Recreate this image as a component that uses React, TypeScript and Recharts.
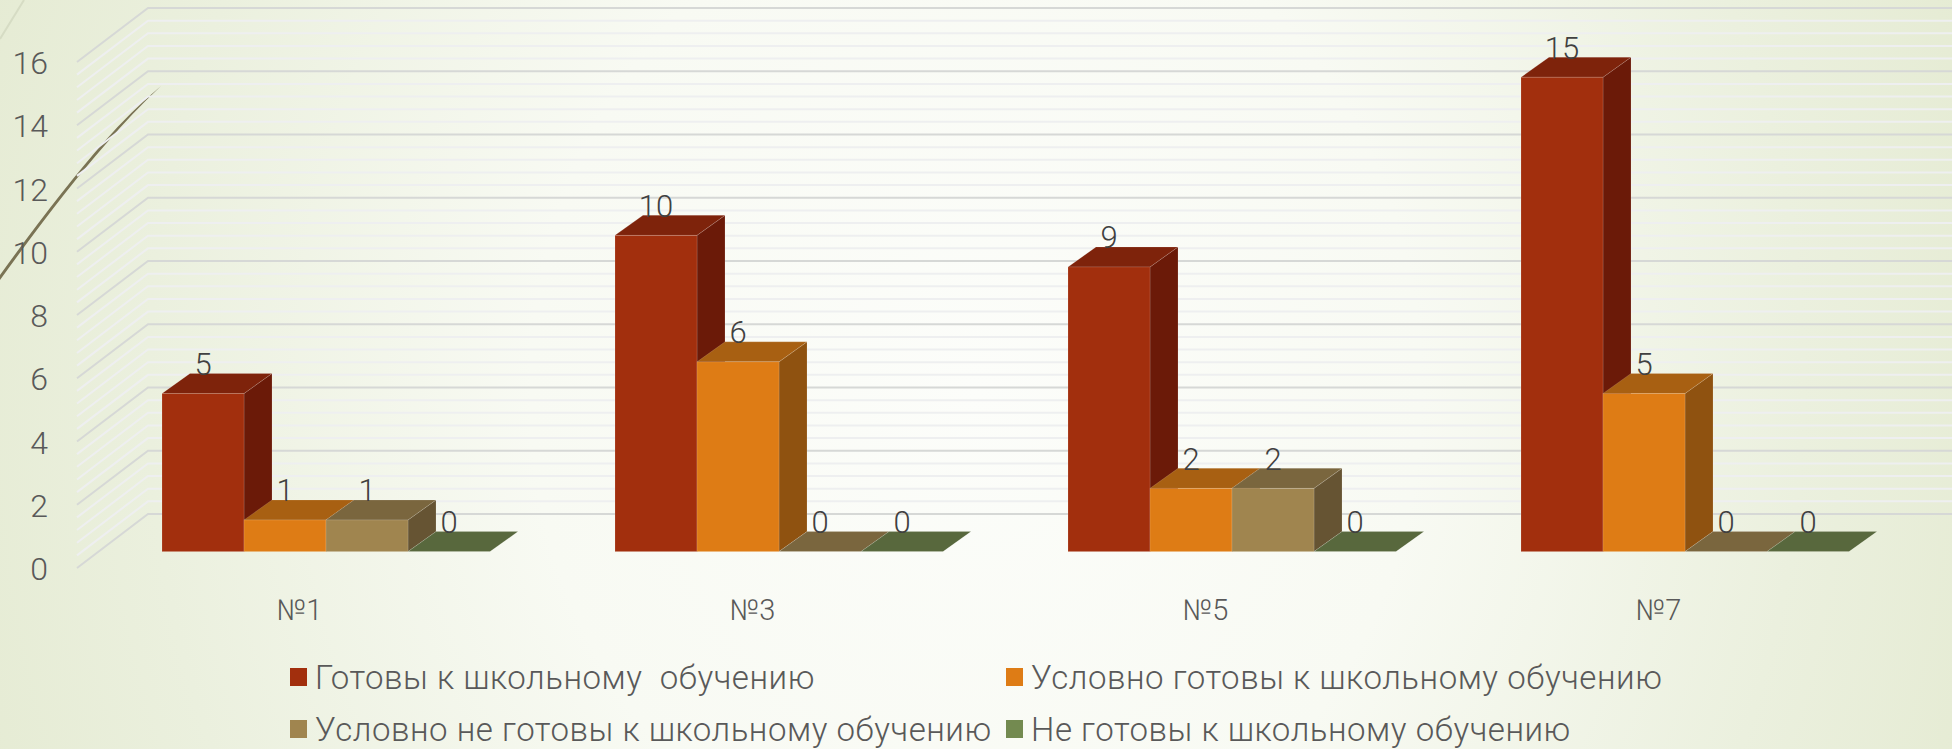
import { Bar, BarChart, CartesianGrid, LabelList, Legend, XAxis, YAxis } from "recharts";

const categories = ["№1", "№3", "№5", "№7"];
const ready = [5, 10, 9, 15];
const conditional = [1, 6, 2, 5];
const conditionalNot = [1, 0, 2, 0];
const notReady = [0, 0, 0, 0];

const yTicks = [0, 2, 4, 6, 8, 10, 12, 14, 16];
const minorTicks = [
    0.4, 0.8, 1.2, 1.6, 2.4, 2.8, 3.2, 3.6, 4.4, 4.8, 5.2, 5.6, 6.4, 6.8, 7.2, 7.6,
    8.4, 8.8, 9.2, 9.6, 10.4, 10.8, 11.2, 11.6, 12.4, 12.8, 13.2, 13.6, 14.4, 14.8, 15.2, 15.6,
];

const seriesNames = [
    "Готовы к школьному  обучению",
    "Условно готовы к школьному обучению",
    "Условно не готовы к школьному обучению",
    "Не готовы к школьному обучению",
];

// front, top, side
const RED = ["#a22f0d", "#7e230b", "#6b1a08"];
const ORANGE = ["#de7c15", "#a86012", "#8f5210"];
const TAN = ["#a0854f", "#7a663e", "#665433"];
const GREEN = ["#738a50", "#58683d", "#4c5a35"];

const chartData = categories.map((category, i) => ({
    category,
    ready: ready[i],
    conditional: conditional[i],
    conditionalNot: conditionalNot[i],
    notReady: notReady[i],
}));

// perspective offsets of the fake 3D look
const WALL_DX = 71;
const WALL_DY = 54;
const BAR_DX = 22.5;
const BAR_DY = 16.4;
const BOX_DX = 28;
const BOX_DY = 20;

const FONT = "Roboto, 'Open Sans', sans-serif";

const wallLine = (color: string, width: number) => (props: any) => {
    const { x1, x2, y1, key } = props;
    const points = `${x1},${y1} ${x1 + WALL_DX},${y1 - WALL_DY} ${x2 + WALL_DX},${y1 - WALL_DY}`;
    return <polyline key={key} points={points} fill="none" stroke={color} strokeWidth={width} />;
};

const box = (colors: string[]) => (props: any) => {
    const x = props.x + BAR_DX;
    const y = props.y - BAR_DY;
    const w = props.width;
    const h = props.height;
    const edge = { stroke: "rgba(255,255,255,0.18)", strokeWidth: 0.75 };
    return (
        <g>
            {h > 0 && (
                <polygon
                    points={`${x + w},${y} ${x + w + BOX_DX},${y - BOX_DY} ${x + w + BOX_DX},${y + h - BOX_DY} ${x + w},${y + h}`}
                    fill={colors[2]}
                    {...edge}
                />
            )}
            <polygon
                points={`${x},${y} ${x + BOX_DX},${y - BOX_DY} ${x + w + BOX_DX},${y - BOX_DY} ${x + w},${y}`}
                fill={colors[1]}
                {...edge}
            />
            {h > 0 && <rect x={x} y={y} width={w} height={h} fill={colors[0]} {...edge} />}
        </g>
    );
};

const valueLabel = (props: any) => {
    const { x, y, width, value } = props;
    return (
        <text
            x={x + width / 2 + BAR_DX}
            y={y - BAR_DY - 29}
            textAnchor="middle"
            dominantBaseline="central"
            fontFamily={FONT}
            fontWeight={300}
            fontSize={31}
            fill="#404040"
        >
            {value}
        </text>
    );
};

const yTick = (props: any) => (
    <text
        x={48}
        y={props.y + 1}
        textAnchor="end"
        dominantBaseline="central"
        fontFamily={FONT}
        fontWeight={300}
        fontSize={32}
        fill="#595959"
    >
        {props.payload.value}
    </text>
);

const xTick = (props: any) => (
    <text
        x={props.x - 4}
        y={610}
        textAnchor="middle"
        dominantBaseline="central"
        fontFamily={FONT}
        fontWeight={300}
        fontSize={29}
        fill="#595959"
    >
        {props.payload.value}
    </text>
);

// two rows, two columns
const legendSlots = [
    { left: 290, top: 668 },
    { left: 1006, top: 668 },
    { left: 290, top: 720 },
    { left: 1006, top: 720 },
];

const legendContent = (props: any) => (
    <div>
        {(props.payload || []).map((item: any, i: number) => (
            <div
                key={item.value}
                style={{
                    position: "absolute",
                    left: legendSlots[i].left,
                    top: legendSlots[i].top,
                    height: 18,
                    display: "flex",
                    alignItems: "center",
                    whiteSpace: "pre",
                }}
            >
                <span style={{ width: 17, height: 18, background: item.color, marginRight: 8 }} />
                <span style={{ fontFamily: FONT, fontWeight: 300, fontSize: 33, lineHeight: 1, letterSpacing: 0.55, color: "#595959" }}>{item.value}</span>
            </div>
        ))}
    </div>
);

export default function App() {
    return (
        <div
            style={{
                position: "absolute",
                left: 0,
                top: 0,
                width: 1952,
                height: 749,
                overflow: "hidden",
                background:
                    "radial-gradient(ellipse 1060px 1200px at 50% 52%, #fcfdfa 0%, #f8faf3 42%, #ebf0de 78%, #e5ebd3 100%)",
            }}
        >
            {/* slide decoration behind the chart */}
            <svg width={1952} height={749} style={{ position: "absolute", left: 0, top: 0 }}>
                <path d="M0,39 L24,0" stroke="#d6dcc4" strokeWidth={2} fill="none" />
                <path d="M0,275 Q60,192 104,142 Q130,112 161,86 Q132,113 105,145 Q62,194 0,280 Z" fill="#7a7354" />
            </svg>
            <div style={{ position: "absolute", left: 0, top: 0 }}>
                <BarChart
                    width={1952}
                    height={749}
                    data={chartData}
                    margin={{ top: 62, right: 63, bottom: 131, left: 0 }}
                    barCategoryGap={62.5}
                    barGap={0}
                >
                    <CartesianGrid vertical={false} horizontalValues={minorTicks} horizontal={wallLine("#eeeff0", 2)} />
                    <CartesianGrid vertical={false} horizontalValues={yTicks} horizontal={wallLine("#d6d8d6", 2)} />
                    <XAxis dataKey="category" axisLine={false} tickLine={false} height={50} tick={xTick} />
                    <YAxis
                        width={77}
                        domain={[0, 16]}
                        ticks={yTicks}
                        interval={0}
                        axisLine={false}
                        tickLine={false}
                        tick={yTick}
                    />
                    <Legend
                        layout="vertical"
                        align="center"
                        verticalAlign="middle"
                        itemSorter={null}
                        content={legendContent}
                        wrapperStyle={{ position: "absolute", left: 0, top: 0, width: 0, height: 0 }}
                    />
                    <Bar dataKey="ready" name={seriesNames[0]} fill={RED[0]} shape={box(RED)} isAnimationActive={false}>
                        <LabelList dataKey="ready" content={valueLabel} />
                    </Bar>
                    <Bar dataKey="conditional" name={seriesNames[1]} fill={ORANGE[0]} shape={box(ORANGE)} isAnimationActive={false}>
                        <LabelList dataKey="conditional" content={valueLabel} />
                    </Bar>
                    <Bar dataKey="conditionalNot" name={seriesNames[2]} fill={TAN[0]} shape={box(TAN)} isAnimationActive={false}>
                        <LabelList dataKey="conditionalNot" content={valueLabel} />
                    </Bar>
                    <Bar dataKey="notReady" name={seriesNames[3]} fill={GREEN[0]} shape={box(GREEN)} isAnimationActive={false}>
                        <LabelList dataKey="notReady" content={valueLabel} />
                    </Bar>
                </BarChart>
            </div>
        </div>
    );
}
